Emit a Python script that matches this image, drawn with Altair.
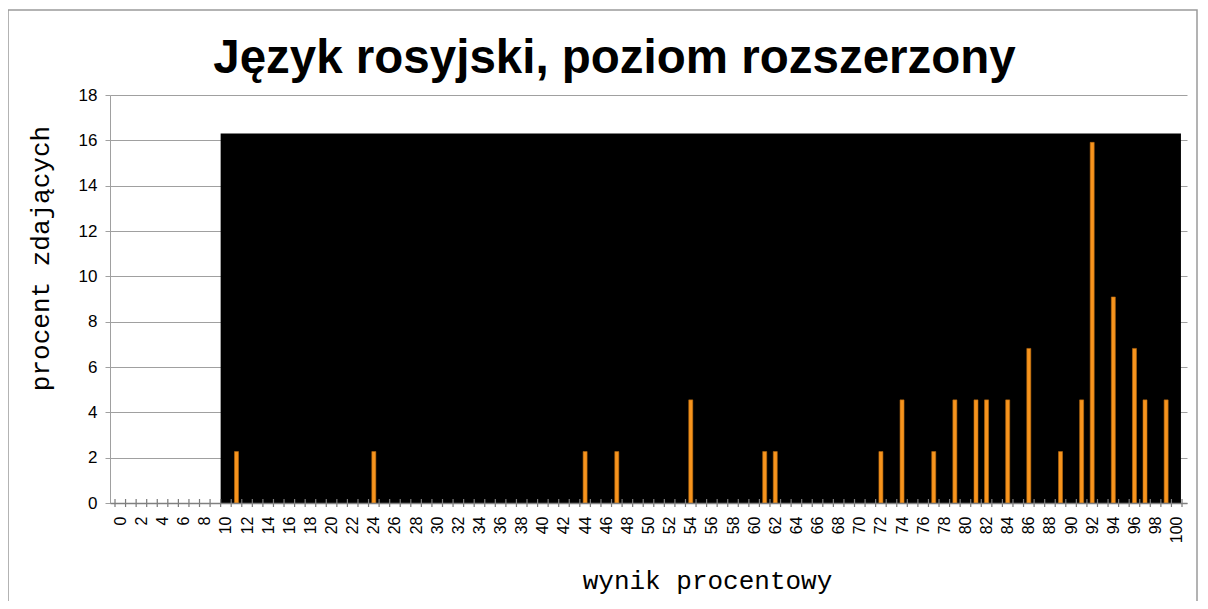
import altair as alt
import pandas as pd

# Data
wynik = [11, 24, 44, 47, 54, 61, 62, 72, 74, 77, 79, 81, 82, 84, 86, 89, 91, 92, 94, 96, 97, 99]
procent = [2.27, 2.27, 2.27, 2.27, 4.55, 2.27, 2.27, 2.27, 4.55, 2.27, 4.55, 4.55, 4.55, 4.55,
           6.82, 2.27, 4.55, 15.91, 9.09, 6.82, 4.55, 4.55]
etykiety_x = list(range(0, 101, 2))
granice_kategorii = [k - 0.5 for k in range(0, 102)]
etykiety_y = list(range(0, 19, 2))
tlo_od = [9.5]
tlo_do = [100.4]
tlo_wys = [16.3]

df = pd.DataFrame({"wynik": wynik, "procent": procent})
tlo = pd.DataFrame({"x": tlo_od, "x2": tlo_do, "y": [0], "y2": tlo_wys})
granice = pd.DataFrame({"g": granice_kategorii})

GRAY = "#A0A0A0"
xscale = alt.Scale(domain=[-0.5, 100.5], nice=False, zero=False)
yscale = alt.Scale(domain=[0, 18], nice=False, zero=True)

yaxis = alt.Axis(
    values=etykiety_y, grid=True, gridColor=GRAY, gridWidth=1,
    domainColor=GRAY, tickColor=GRAY, tickSize=5,
    labelFont="Liberation Sans", labelFontSize=17, labelColor="black", labelPadding=8,
    title="procent zdających", titleFont="Liberation Mono", titleFontSize=26,
    titleFontWeight="normal", titleColor="black", titleAngle=270,
    titleX=-70, titleY=163, titleBaseline="middle", titleAlign="center",
)

xaxis = alt.Axis(
    orient="bottom", values=etykiety_x, labelAngle=270, ticks=False, tickSize=0,
    labelPadding=13, domainColor="#808080", domainWidth=1.5, grid=False,
    labelFont="Liberation Sans", labelFontSize=16, labelColor="black",
    labelFlush=False, labelOverlap=False, labelBound=False, format="d",
    title="wynik procentowy", titleFont="Liberation Mono", titleFontSize=26,
    titleFontWeight="normal", titleColor="black",
    titleX=597, titleY=77, titleBaseline="middle", titleAlign="center", zindex=1,
)

ramka = alt.Chart(pd.DataFrame({"r": [0]})).mark_rect(
    fillOpacity=0, stroke="#9A9A9A", strokeWidth=1.5, clip=False
).encode(
    x=alt.value(-102), x2=alt.value(1087), y=alt.value(-85), y2=alt.value(530)
)

czarne = alt.Chart(tlo).mark_rect(color="black").encode(
    x=alt.X("x:Q", scale=xscale, axis=xaxis),
    x2="x2",
    y=alt.Y("y:Q", scale=yscale, axis=yaxis),
    y2="y2",
)

kreski = alt.Chart(granice).mark_rule(
    color="#7A7A7A", strokeWidth=1.2, clip=False
).encode(
    x=alt.X("g:Q", scale=xscale, axis=xaxis),
    y=alt.value(404),
    y2=alt.value(412),
)

slupki = alt.Chart(df).mark_bar(
    size=4, fill="#F7941D", stroke="#B86A10", strokeWidth=0.6
).encode(
    x=alt.X("wynik:Q", scale=xscale, axis=xaxis),
    y=alt.Y("procent:Q", scale=yscale, axis=yaxis),
)

chart = alt.layer(ramka, czarne, kreski, slupki).properties(
    width=1077,
    height=408,
    autosize=alt.AutoSizeParams(type="none"),
    padding={"left": 102, "top": 87, "right": 13, "bottom": 98},
    background="white",
    title=alt.TitleParams(
        "Język rosyjski, poziom rozszerzony", font="Liberation Sans", fontSize=47.5,
        fontWeight="bold", color="black", anchor="middle", dx=-34, offset=0, dy=111,
        baseline="alphabetic", frame="group",
    ),
).configure_view(stroke=None)

chart.save("out.html", embed_options={"renderer": "svg", "actions": False})
